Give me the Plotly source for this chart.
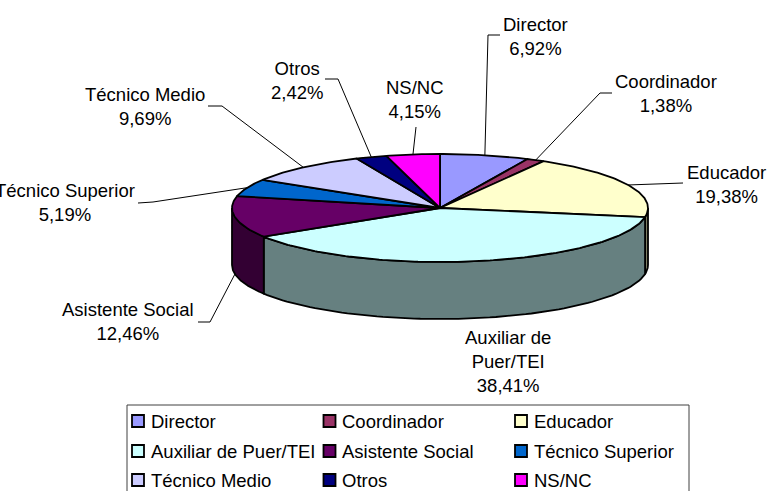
import numpy as np
import plotly.graph_objects as go

# ---------------- data ----------------
categories = ["Director", "Coordinador", "Educador", "Auxiliar de Puer/TEI",
              "Asistente Social", "Técnico Superior", "Técnico Medio", "Otros", "NS/NC"]
values = [6.92, 1.38, 19.38, 38.41, 12.46, 5.19, 9.69, 2.42, 4.15]
label_names = ["Director", "Coordinador", "Educador", "Auxiliar de<br>Puer/TEI",
               "Asistente Social", "Técnico Superior", "Técnico Medio", "Otros", "NS/NC"]
top_colors = ["#9999FF", "#993366", "#FFFFCC", "#CCFFFF", "#660066",
              "#0066CC", "#CCCCFF", "#000080", "#FF00FF"]
side_colors = ["#4D4D80", "#4D1A33", "#808066", "#668080", "#330033",
               "#003366", "#666680", "#000040", "#800080"]

# ---------------- layout constants ----------------
CX, CY, RX, RY, DEPTH = 440, 208, 208, 54, 57
FONT = "Liberation Sans, Arial, sans-serif"
FS = 18.5

# label centers (x, y of block middle) and leader elbows
label_pos = {
    "Director": (535, 36.5), "Coordinador": (666, 93.5), "Educador": (726, 184.5),
    "Auxiliar de Puer/TEI": (508, 361), "Asistente Social": (128, 321),
    "Técnico Superior": (65, 202.5), "Técnico Medio": (145, 106.5),
    "Otros": (297, 80), "NS/NC": (415, 99),
}
leader_pts = {
    "Director": [(500, 35), (488, 35)], "Coordinador": [(612, 93), (600, 93)],
    "Educador": [(683, 183)], "Asistente Social": [(198, 322), (210, 322)],
    "Técnico Superior": [(138, 203), (153, 202)], "Técnico Medio": [(208, 106), (222, 106)],
    "Otros": [(325, 79), (338, 79)], "NS/NC": [(416, 127)],
}


def pt(theta_deg, dy=0.0):
    t = np.radians(theta_deg)
    return CX + RX * np.sin(t), CY - RY * np.cos(t) + dy


total = sum(values)
angles = np.concatenate([[0], np.cumsum(values) / total * 360])

fig = go.Figure()

# side walls (front half only: 90..270 degrees)
for i, cat in enumerate(categories):
    a0, a1 = max(angles[i], 90), min(angles[i + 1], 270)
    if a1 <= a0:
        continue
    th = np.linspace(a0, a1, 80)
    xt, yt = pt(th)
    xb, yb = pt(th[::-1], DEPTH)
    xs = np.concatenate([xt, xb, xt[:1]])
    ys = np.concatenate([yt, yb, yt[:1]])
    fig.add_trace(go.Scatter(x=xs, y=ys, mode="lines", fill="toself",
                             fillcolor=side_colors[i],
                             line=dict(color="black", width=1.8),
                             hoverinfo="skip", showlegend=False))

# top faces
for i, cat in enumerate(categories):
    th = np.linspace(angles[i], angles[i + 1], max(4, int(values[i] * 4)))
    xa, ya = pt(th)
    xs = np.concatenate([[CX], xa, [CX]])
    ys = np.concatenate([[CY], ya, [CY]])
    fig.add_trace(go.Scatter(x=xs, y=ys, mode="lines", fill="toself",
                             fillcolor=top_colors[i],
                             line=dict(color="black", width=1.8),
                             hoverinfo="text", text=f"{cat}: {values[i]}%",
                             showlegend=False))

# leader lines
for i, cat in enumerate(categories):
    if cat not in leader_pts:
        continue
    mid = (angles[i] + angles[i + 1]) / 2
    dy = DEPTH if 90 < mid < 270 else 0
    ex, ey = pt(mid, dy)
    pts = leader_pts[cat] + [(ex, ey)]
    fig.add_trace(go.Scatter(x=[p[0] for p in pts], y=[p[1] for p in pts],
                             mode="lines", line=dict(color="black", width=1),
                             hoverinfo="skip", showlegend=False))

annotations = []
for i, cat in enumerate(categories):
    x, y = label_pos[cat]
    pct = f"{values[i]:.2f}".replace(".", ",") + "%"
    annotations.append(dict(x=x, y=y, xref="x", yref="y", showarrow=False,
                            text=f"{label_names[i]}<br>{pct}",
                            font=dict(family=FONT, size=FS, color="black"),
                            xanchor="center", yanchor="middle", align="center"))

# manual legend (3 columns x 3 rows)
sq_x = [138, 329.5, 521]
txt_x = [149, 340, 532]
row_y = [421, 451, 480]
lx, ly = [], []
for i, cat in enumerate(categories):
    r, c = divmod(i, 3)
    lx.append(sq_x[c])
    ly.append(row_y[r])
    annotations.append(dict(x=txt_x[c], y=row_y[r], xref="x", yref="y", showarrow=False,
                            text=cat, font=dict(family=FONT, size=FS, color="black"),
                            xanchor="left", yanchor="middle"))
fig.add_trace(go.Scatter(x=lx, y=ly, mode="markers",
                         marker=dict(symbol="square", size=12, color=top_colors,
                                     line=dict(color="black", width=1.8)),
                         hoverinfo="skip", showlegend=False))

fig.update_layout(
    width=767, height=491,
    margin=dict(l=0, r=0, t=0, b=0),
    paper_bgcolor="white", plot_bgcolor="white",
    xaxis=dict(range=[0, 767], visible=False, fixedrange=True),
    yaxis=dict(range=[491, 0], visible=False, fixedrange=True),
    annotations=annotations,
    shapes=[dict(type="rect", xref="x", yref="y", x0=127, x1=689, y0=405, y1=496,
                 line=dict(color="#404040", width=1), fillcolor="rgba(0,0,0,0)",
                 layer="below")],
    showlegend=False,
)

fig.write_html("out.html", config={"displayModeBar": False},
               post_script="document.body.style.margin='0px';document.body.style.overflow='hidden';")
